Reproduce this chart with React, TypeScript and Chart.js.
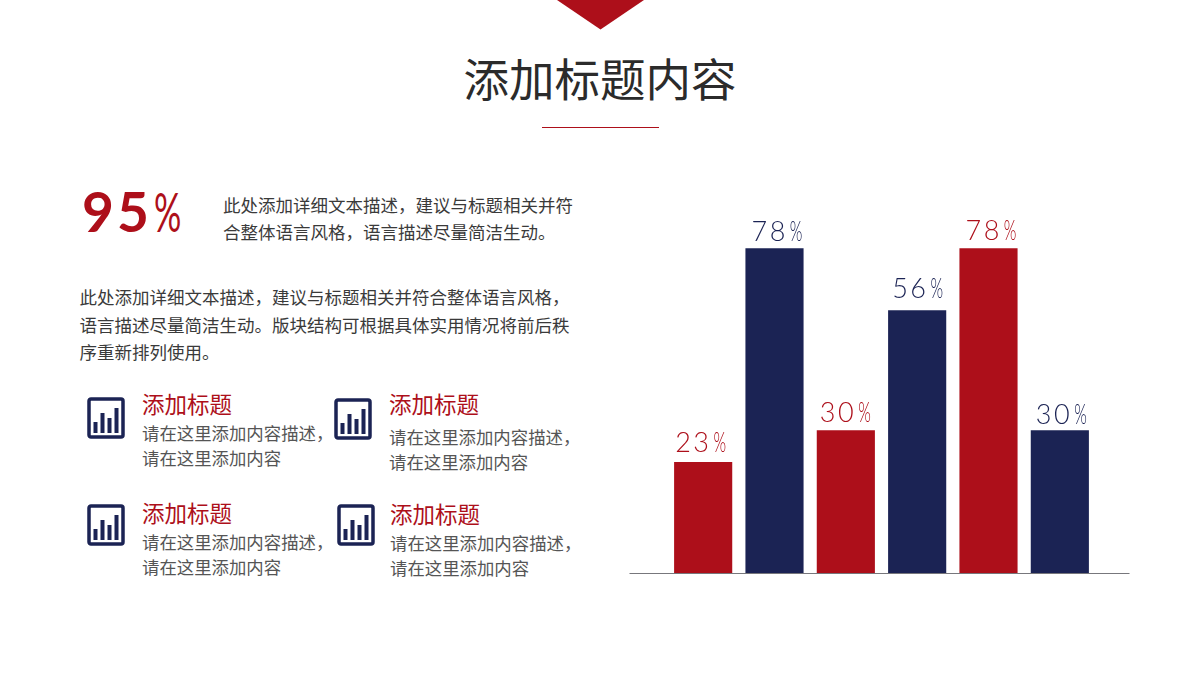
import React, { useEffect, useRef } from "react";
import { Chart, registerables } from "chart.js";

Chart.register(...registerables);

const categories = ["A", "B", "C", "D", "E", "F"];
const barValues = [23.3, 68.2, 30, 55.2, 68.2, 30];
const labelValues = ["23", "78", "30", "56", "78", "30"];
const RED = "#ad0f1a";
const NAVY = "#1b2354";
const barColors = [RED, NAVY, RED, NAVY, RED, NAVY];
const labelGaps = [10, 7, 8, 12, 8, 6];
const labelShifts = [-28, -23, -26, -25, -23, -24];
const cjk = '"Noto Sans CJK SC", "Noto Sans", sans-serif';
const latin = 'Lato, "Noto Sans", sans-serif';

const para1 = ["此处添加详细文本描述，建议与标题相关并符", "合整体语言风格，语言描述尽量简洁生动。"];
const para2 = [
  "此处添加详细文本描述，建议与标题相关并符合整体语言风格，",
  "语言描述尽量简洁生动。版块结构可根据具体实用情况将前后秩",
  "序重新排列使用。",
];
const itemTitle = "添加标题";
const itemLines = ["请在这里添加内容描述，", "请在这里添加内容"];
const items = [
  { ix: 87, iy: 397, tx: 142, ty: 403, d1: 432.5 },
  { ix: 334, iy: 398, tx: 389, ty: 403, d1: 436.5 },
  { ix: 87, iy: 504, tx: 142, ty: 512, d1: 541.5 },
  { ix: 337, iy: 504, tx: 390, ty: 513, d1: 542.5 },
];

const barLabelPlugin = {
  id: "barLabels",
  afterDatasetsDraw(chart: any) {
    const { ctx, scales } = chart;
    const y0 = scales.y.getPixelForValue(0);
    ctx.save();
    ctx.strokeStyle = "#77777c";
    ctx.lineWidth = 1.2;
    ctx.beginPath();
    ctx.moveTo(chart.chartArea.left - 38, y0 + 0.5);
    ctx.lineTo(chart.chartArea.right + 34, y0 + 0.5);
    ctx.stroke();
    chart.getDatasetMeta(0).data.forEach((bar: any, i: number) => {
      ctx.fillStyle = barColors[i];
      ctx.textBaseline = "alphabetic";
      ctx.textAlign = "left";
      ctx.font = `300 27px ${latin}`;
      (ctx as any).letterSpacing = "2.5px";
      const num = labelValues[i];
      const nw = ctx.measureText(num).width;
      const startX = bar.x + labelShifts[i];
      const base = bar.y - labelGaps[i];
      ctx.fillText(num, startX, base);
      (ctx as any).letterSpacing = "0px";
      ctx.save();
      ctx.translate(startX + nw + 2, base);
      ctx.scale(0.6, 1);
      ctx.fillText("%", 0, 0);
      ctx.restore();
    });
    ctx.restore();
  },
};

function Text({ x, y, size, color, weight, children }: any) {
  return (
    <div
      style={{
        position: "absolute",
        left: x,
        top: y,
        transform: "translateY(-50%)",
        fontFamily: cjk,
        fontSize: size,
        lineHeight: 1.2,
        color,
        fontWeight: weight ?? 400,
        whiteSpace: "nowrap",
      }}
    >
      {children}
    </div>
  );
}

function Icon({ x, y }: { x: number; y: number }) {
  return (
    <svg style={{ position: "absolute", left: x, top: y }} width={38} height={42} viewBox="0 0 38 42">
      <rect x={2} y={2} width={34} height={38} rx={2} fill="none" stroke={NAVY} strokeWidth={3.5} />
      <rect x={6.5} y={25} width={4} height={11} fill={NAVY} />
      <rect x={13.5} y={16} width={4} height={20} fill={NAVY} />
      <rect x={20.5} y={21} width={4} height={15} fill={NAVY} />
      <rect x={27.5} y={11} width={4} height={25} fill={NAVY} />
    </svg>
  );
}

export default function App() {
  const ref = useRef<HTMLCanvasElement>(null);
  useEffect(() => {
    const chart = new Chart(ref.current!, {
      type: "bar",
      data: {
        labels: categories,
        datasets: [{ data: barValues, backgroundColor: barColors, barPercentage: 0.815, categoryPercentage: 1 }],
      },
      options: {
        animation: false,
        responsive: false,
        layout: { padding: { left: 40.5, right: 71.5, top: 97, bottom: 3 } },
        plugins: { legend: { display: false }, tooltip: { enabled: false } },
        scales: {
          x: { display: false },
          y: { display: false, min: 0, max: 100 },
        },
      },
      plugins: [barLabelPlugin],
    } as any);
    return () => chart.destroy();
  }, []);

  return (
    <div style={{ position: "absolute", left: 0, top: 0, width: 1200, height: 680, background: "#fff", overflow: "hidden" }}>
      <svg style={{ position: "absolute", left: 557, top: 0 }} width={87} height={30}>
        <polygon points="0,0 87,0 43.5,29.5" fill={RED} />
      </svg>
      <div
        style={{
          position: "absolute",
          left: 400,
          width: 400,
          top: 49,
          textAlign: "center",
          fontFamily: cjk,
          fontSize: 45.5,
          fontWeight: 400,
          lineHeight: "56px",
          color: "#2b2b2b",
        }}
      >
        添加标题内容
      </div>
      <div style={{ position: "absolute", left: 542, top: 127, width: 117, height: 1, background: RED }} />

      <div
        style={{
          position: "absolute",
          left: 82,
          top: 179,
          fontFamily: latin,
          fontSize: 55,
          fontWeight: 700,
          lineHeight: "64px",
          letterSpacing: 3,
          color: RED,
          whiteSpace: "nowrap",
        }}
      >
        95
        <span
          style={{
            display: "inline-block",
            fontWeight: 400,
            letterSpacing: 0,
            marginLeft: 2,
            transform: "scaleX(0.62)",
            transformOrigin: "left center",
          }}
        >
          %
        </span>
      </div>

      {para1.map((t, i) => (
        <Text key={t} x={223} y={204 + i * 27} size={17.5} color="#3a3a3a">{t}</Text>
      ))}
      {para2.map((t, i) => (
        <Text key={t} x={79.5} y={296 + i * 27.5} size={17.5} color="#3a3a3a">{t}</Text>
      ))}

      {items.map((it, k) => (
        <React.Fragment key={k}>
          <Icon x={it.ix} y={it.iy} />
          <Text x={it.tx} y={it.ty} size={22.5} color={RED}>{itemTitle}</Text>
          {itemLines.map((t, i) => (
            <Text key={t} x={it.tx} y={it.d1 + i * 25} size={17.4} color="#555">{t}</Text>
          ))}
        </React.Fragment>
      ))}

      <canvas ref={ref} width={540} height={576} style={{ position: "absolute", left: 627, top: 0 }} />
    </div>
  );
}
